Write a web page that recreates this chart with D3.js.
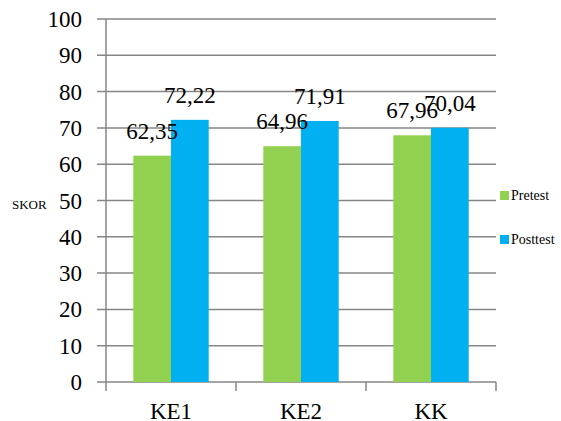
<!DOCTYPE html>
<html>
<head>
<meta charset="utf-8">
<script src="https://cdn.jsdelivr.net/npm/d3@7"></script>
</head>
<body style="margin:0">
<svg width="561" height="421"></svg>
<script>
var categories = ["KE1", "KE2", "KK"];
var seriesNames = ["Pretest", "Posttest"];
var pretest = [62.35, 64.96, 67.96];
var posttest = [72.22, 71.91, 70.04];
var yTicks = [0, 10, 20, 30, 40, 50, 60, 70, 80, 90, 100];
var colors = ["#92D050", "#00B0F0"];
var font = "serif";

var svg = d3.select("svg"),
    margin = {top: 19, right: 65, bottom: 39, left: 106},
    width = +svg.attr("width") - margin.left - margin.right,
    height = +svg.attr("height") - margin.top - margin.bottom;

var data = categories.map(function(c, i) {
    return {cat: c, values: [pretest[i], posttest[i]]};
});

var x = d3.scaleBand().domain(categories).range([0, width]).paddingInner(0.42).paddingOuter(0.21),
    x1 = d3.scaleBand().domain(seriesNames).range([0, x.bandwidth()]),
    y = d3.scaleLinear().domain([0, 100]).range([height, 0]);

var g = svg.append("g")
    .attr("transform", "translate(" + margin.left + "," + margin.top + ")");

// gridlines
g.selectAll(".grid")
    .data(yTicks)
    .enter().append("line")
    .attr("x1", -9)
    .attr("x2", width)
    .attr("y1", function(d) { return y(d); })
    .attr("y2", function(d) { return y(d); })
    .attr("stroke", "#868686")
    .attr("stroke-width", 1.5);

// y labels
g.selectAll(".ylab")
    .data(yTicks)
    .enter().append("text")
    .attr("x", -24)
    .attr("y", function(d) { return y(d) + 8; })
    .attr("text-anchor", "end")
    .attr("font-family", font)
    .attr("font-size", 23)
    .text(function(d) { return d; });

// bars
var groups = g.selectAll(".grp")
    .data(data)
    .enter().append("g")
    .attr("transform", function(d) { return "translate(" + x(d.cat) + ",0)"; });

groups.selectAll("rect")
    .data(function(d) { return d.values.map(function(v, i) { return {s: seriesNames[i], v: v, i: i}; }); })
    .enter().append("rect")
    .attr("x", function(d) { return x1(d.s); })
    .attr("y", function(d) { return y(d.v); })
    .attr("width", x1.bandwidth())
    .attr("height", function(d) { return height - y(d.v); })
    .attr("fill", function(d) { return colors[d.i]; });

groups.selectAll(".lab")
    .data(function(d) { return d.values.map(function(v, i) { return {s: seriesNames[i], v: v}; }); })
    .enter().append("text")
    .attr("x", function(d) { return x1(d.s) + x1.bandwidth() / 2; })
    .attr("y", function(d) { return y(d.v) - 17; })
    .attr("text-anchor", "middle")
    .attr("font-family", font)
    .attr("font-size", 23)
    .text(function(d) { return d3.format(".2f")(d.v).replace(".", ","); });

// axes lines
g.append("line")
    .attr("x1", 0).attr("x2", 0)
    .attr("y1", 0).attr("y2", height)
    .attr("stroke", "#868686").attr("stroke-width", 1.5);

var xEdges = categories.map(function(c) { return x(c) - x.step() * x.paddingInner() / 2; });
xEdges[0] = 0;
xEdges.push(width);
g.selectAll(".xtick")
    .data(xEdges)
    .enter().append("line")
    .attr("x1", function(d) { return d; })
    .attr("x2", function(d) { return d; })
    .attr("y1", height)
    .attr("y2", height + 9)
    .attr("stroke", "#868686").attr("stroke-width", 1.5);

g.selectAll(".xlab")
    .data(categories)
    .enter().append("text")
    .attr("x", function(d) { return x(d) + x.bandwidth() / 2; })
    .attr("y", height + 37)
    .attr("text-anchor", "middle")
    .attr("font-family", font)
    .attr("font-size", 23)
    .text(function(d) { return d; });

// axis title
svg.append("text")
    .attr("x", 12)
    .attr("y", 209)
    .attr("font-family", font)
    .attr("font-size", 13)
    .text("SKOR");

// legend
var legend = svg.selectAll(".legend")
    .data(seriesNames)
    .enter().append("g")
    .attr("transform", function(d, i) { return "translate(500," + (191 + i * 44) + ")"; });

legend.append("rect")
    .attr("width", 9).attr("height", 9)
    .attr("fill", function(d, i) { return colors[i]; });

legend.append("text")
    .attr("x", 11)
    .attr("y", 9)
    .attr("font-family", font)
    .attr("font-size", 14)
    .text(function(d) { return d; });
</script>
</body>
</html>
